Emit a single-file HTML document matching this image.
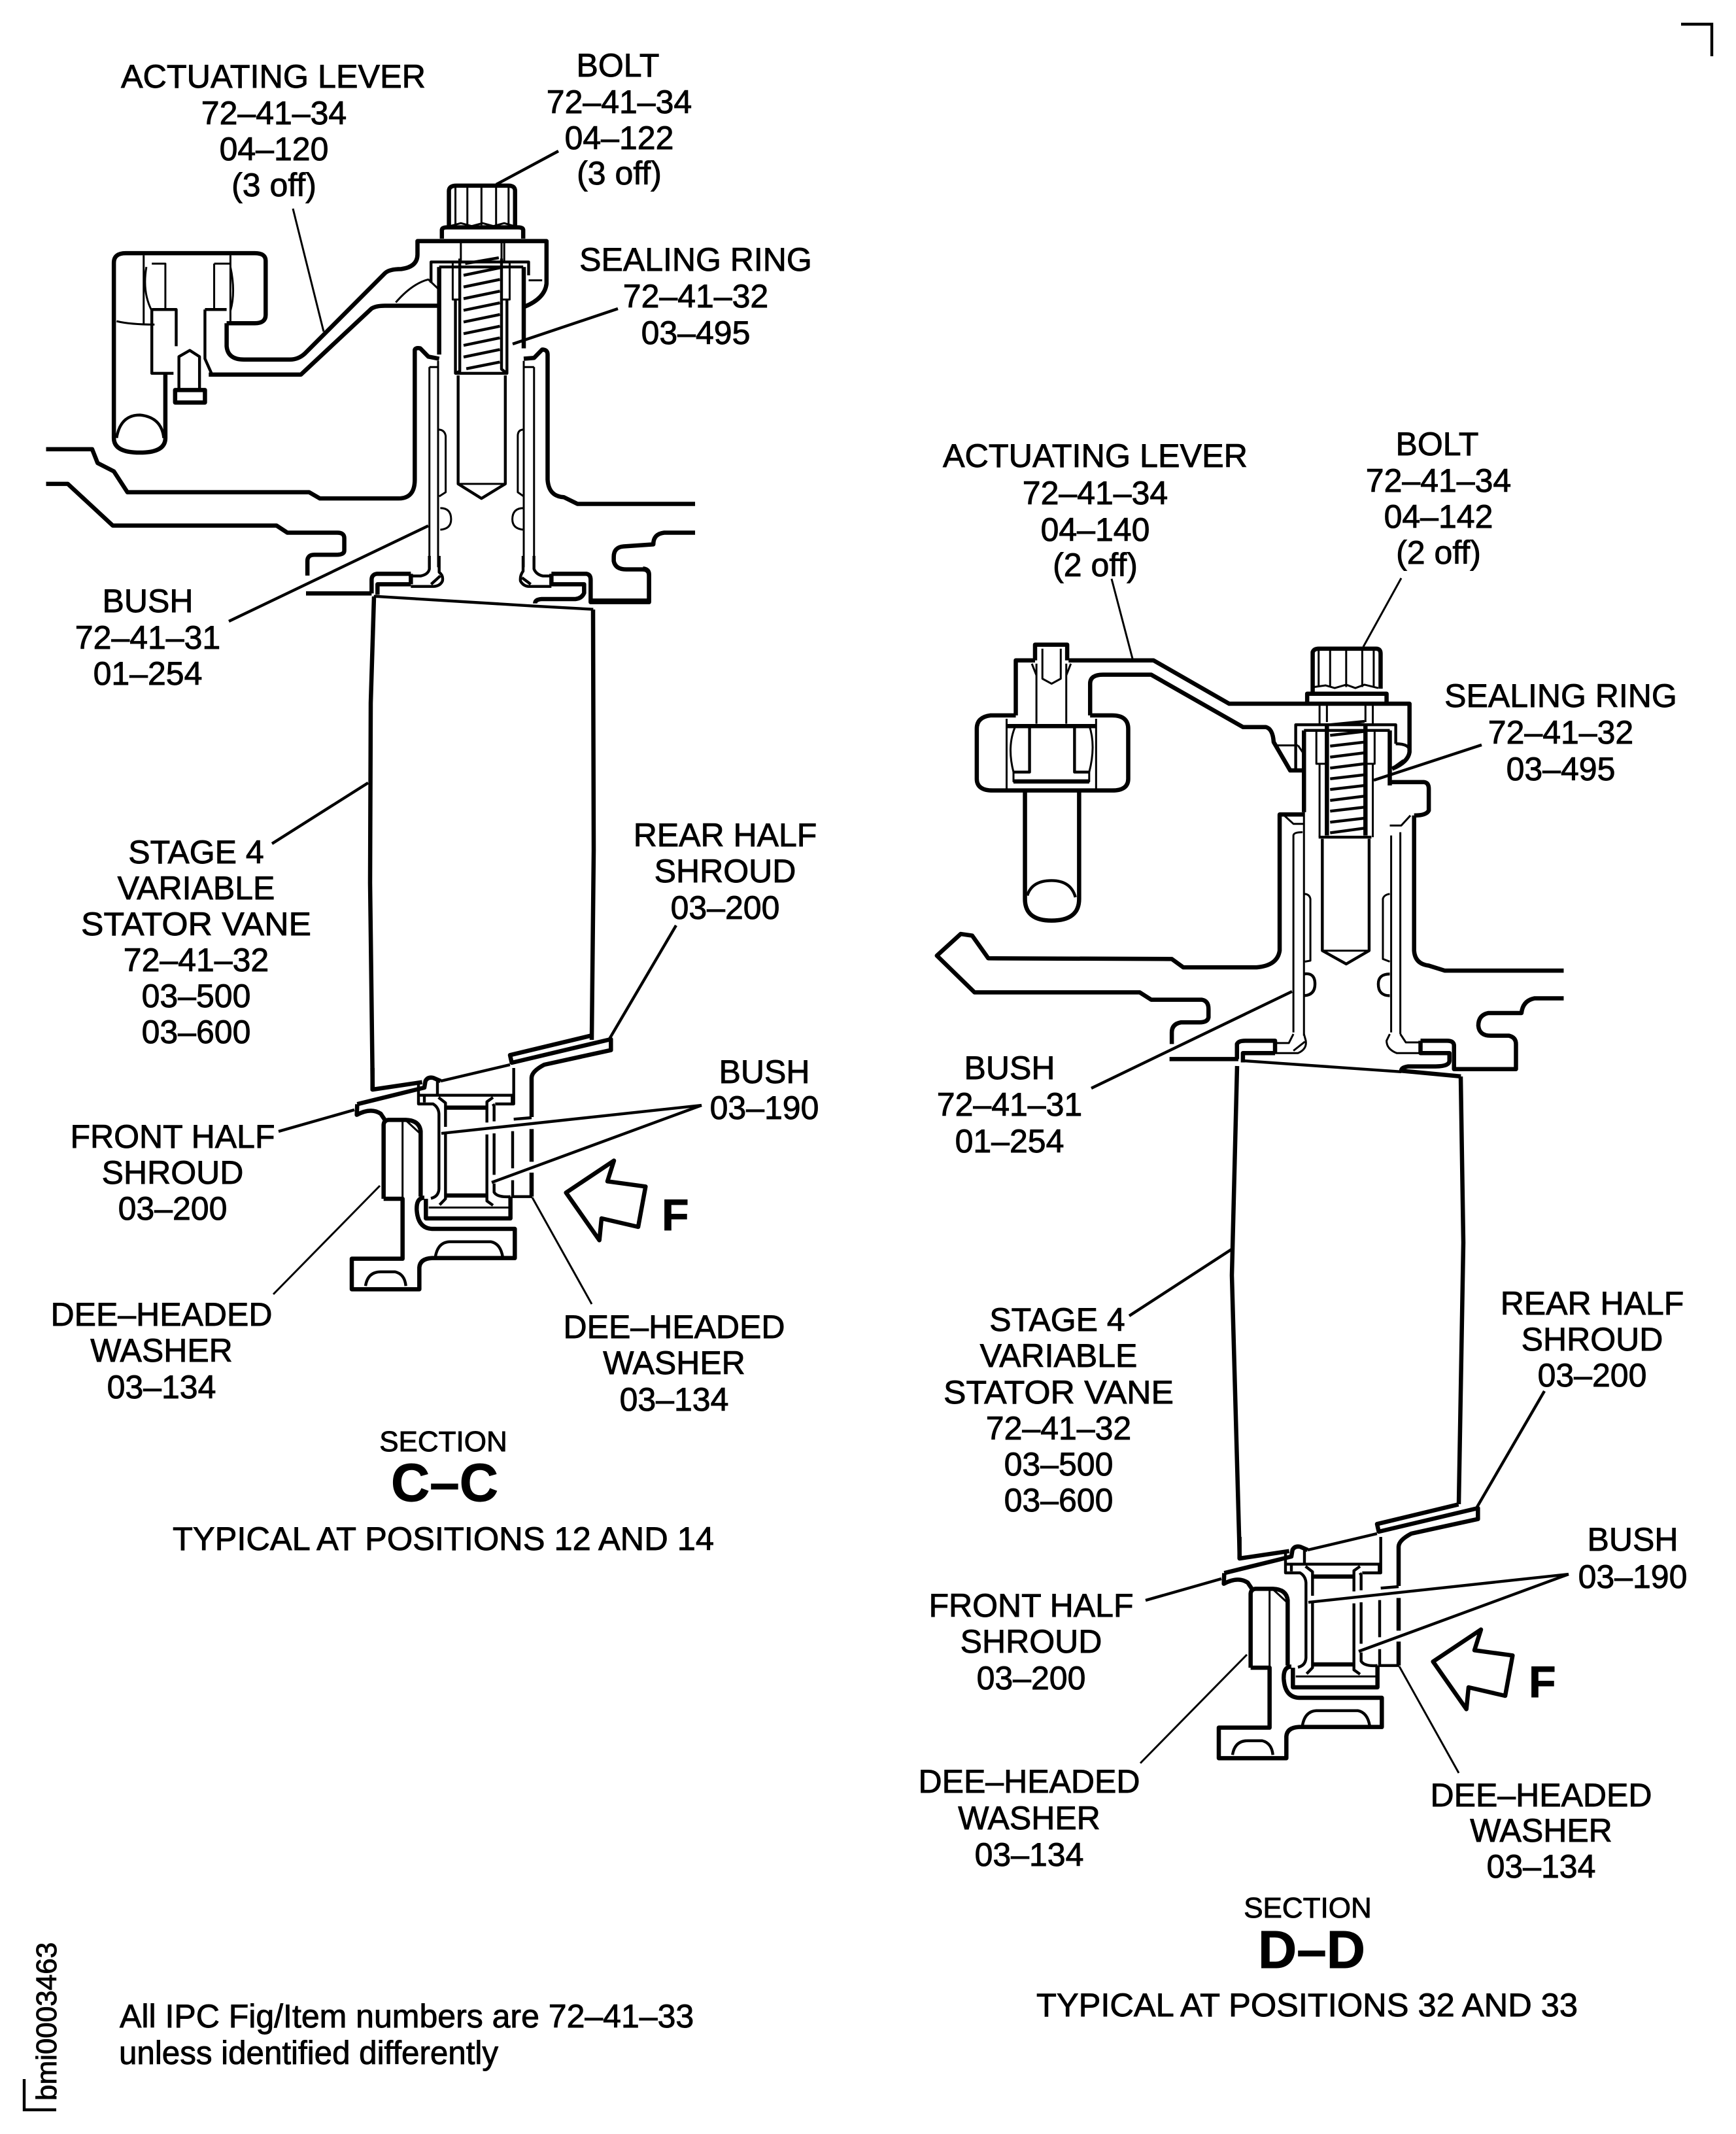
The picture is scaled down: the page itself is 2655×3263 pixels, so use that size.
<!DOCTYPE html>
<html><head><meta charset="utf-8"><style>
html,body{margin:0;padding:0;background:#fff}
svg{display:block}
path,polygon,line{fill:none;stroke:#000;vector-effect:non-scaling-stroke;stroke-linejoin:round}
.t{stroke-width:6.5}.m{stroke-width:4.4}.n{stroke-width:3}
text{font-family:"Liberation Sans",sans-serif;font-size:50px;fill:#000;text-anchor:middle;stroke:#000;stroke-width:.9px}
.b{font-weight:bold;font-size:82px}.f{font-weight:bold;font-size:68px;text-anchor:start}.s{font-size:44px}.l{text-anchor:start}
</style></head><body>
<svg width="2655" height="3263" viewBox="0 0 2655 3263" xmlns="http://www.w3.org/2000/svg">
<rect width="2655" height="3263" fill="#fff"/>
<defs>
<g id="B">
<g transform="translate(1880,2350) scale(.33333)">
<path class="t" d="M98,600 L98,260 Q100,240 120,238 L200,238 Q262,240 268,290 L268,590"/>
<path class="n" d="M185,240 L185,600 M200,240 L265,300"/>
<path class="t" d="M98,600 L185,600 L185,875 L-48,875 L-48,1015 L262,1015 L262,915 Q265,875 320,872 L700,872 L700,738 L320,738 Q255,735 250,650 Q248,595 285,595"/>
<path class="t" d="M292,600 L292,690 L680,690 L680,590"/>
<path class="n" d="M305,640 L672,640"/>
<path class="t" d="M385,182 L570,182 M385,585 L570,585"/>
<path class="m" d="M258,60 L258,165 L325,165 Q350,180 352,210 L352,555 Q350,590 315,598"/>
<path class="m" d="M258,125 L698,125"/>
<path class="m" d="M285,130 L285,158 M345,60 L345,125 M350,135 L382,160 L382,270 M382,300 L382,600 L355,628"/>
<path class="m" d="M600,135 L572,155 L572,250 M572,305 L572,610 L600,630 M600,165 L605,175 L605,245 M605,300 L605,490 M605,530 L605,570 Q620,595 680,590"/>
<path class="m" d="M695,0 L695,165 L610,165 M688,130 L688,160"/>
<path class="m" d="M690,290 L690,460 M690,515 L690,590 L780,590"/>
<path class="t" d="M777,280 L777,430 M777,480 L777,590 M777,225 L777,45 Q778,15 835,-15 L1141,-82 L1141,-132 L686,-24 L678,-59 L1052,-149"/>
<path class="m" d="M695,235 L777,228"/>
<path class="t" d="M47,0 L47,99 L275,65 M-23,166 L285,90 L290,60 Q300,40 325,45 L360,60 M-23,166 L-25,215 Q40,180 85,210 L105,240"/>
<path class="m" d="M360,60 L678,-15"/>
<path class="m" d="M335,870 Q345,800 400,797 L590,797 Q635,805 645,870 M15,1000 Q25,935 85,935 L150,935 Q195,945 200,1000"/>
<polygon class="t" points="935,572 1155,425 1125,520 1300,544 1266,729 1098,690 1088,790"/>
</g>
<path class="m" d="M2399,2407 L2001,2450 M2399,2407 L2078,2525 M1752,2447 L1868,2414"/>
<path class="n" d="M1744,2696 L1907,2530 M2231,2711 L2140,2548"/>
</g>
</defs>
<use href="#B"/>
<use href="#B" transform="translate(-1326,-717)"/>

<!-- vanes -->
<path class="t" d="M572,912 L567,1075 L566,1350 L570,1668 M907,932 L908,1300 L905,1590"/>
<path class="t" d="M1892,1630 L1884,1950 L1896,2383 M2234,1646 L2238,1900 L2231,2300"/>

<!-- section C top -->
<g transform="scale(.8292,.6378)">
<path class="t" d="M418,775 L470,775 Q490,775 490,755 L490,625 Q490,607 470,607 L232,607 Q210,607 210,630 L210,1050 Q210,1085 258,1085 Q305,1085 305,1050 L305,898"/>
<path class="t" d="M418,775 L418,830 Q420,862 450,862 L535,862 Q550,862 562,848 L710,655 Q718,645 740,645 Q770,640 770,610 L770,578 L1008,578 L1008,680 Q1005,715 968,735"/>
<path class="t" d="M385,898 L555,898 L685,740 Q693,733 710,733 L808,733"/>
<path class="n" d="M215,770 Q240,778 285,778 M265,612 L265,778 M425,612 L425,770 M280,632 L305,632 L305,742 M395,632 L425,632 M395,632 L395,742 M270,640 Q262,700 280,745 M425,640 Q435,700 425,745"/>
<path class="m" d="M215,1050 Q222,995 258,995 Q298,1000 302,1050"/>
<path class="m" d="M280,742 L325,742 L325,830 M280,742 L280,895 L320,895 M378,742 L418,742 M378,742 L378,860 L390,895"/>
<path class="t" d="M323,965 L378,965 L378,935 L323,935 Z"/>
<path class="m" d="M330,935 L330,855 L350,840 L368,855 L368,935"/>
<path class="n" d="M730,725 Q760,680 790,670 L808,692 M975,672 L1000,672"/>
<path class="m" d="M795,678 L795,628 L975,628 L975,660 M810,640 L965,640"/>
<path class="t" d="M810,640 L810,850 M966,640 L966,835"/>
<path class="t" d="M828,545 L828,458 Q828,445 842,445 L938,445 Q950,445 950,458 L950,545"/>
<path class="n" d="M840,450 L840,540 M862,450 L862,540 M888,450 L888,540 M915,450 L915,540 M938,450 L938,540 M830,542 L850,535 L870,542 L890,535 L910,542 L930,535 L948,542"/>
<path class="t" d="M815,572 L815,552 Q815,545 825,545 L955,545 Q965,545 965,552 L965,572"/>
<path class="n" d="M850,578 L850,625 M930,578 L930,625 M925,578 L925,625"/>
<path class="n" d="M835,630 L835,718 L850,718 M940,630 L940,718 L925,718"/>
<path class="m" d="M848,620 L848,890 L840,895 L935,895 L925,885 L925,620 M840,718 L840,895 M935,718 L935,895"/>
<path class="m" d="M855,660 L922,642 M855,688 L922,670 M855,716 L922,698 M855,744 L922,726 M855,772 L922,754 M855,800 L922,782 M855,828 L922,810 M855,856 L922,838 M860,884 L922,868 M858,632 L920,618"/>
<path class="m" d="M845,900 L845,1160 L888,1195 L932,1160 L932,900"/>
<path class="n" d="M845,1160 L932,1160"/>
<path class="t" d="M765,1150 L765,840 Q765,833 775,835 L790,855 L810,860 M765,1150 Q765,1195 735,1195 L590,1195 L570,1180 L235,1180 L210,1130 L180,1110 L170,1077 L85,1077"/>
<path class="t" d="M85,1160 L125,1160 L208,1260 L510,1260 L530,1277 L622,1277 Q635,1277 635,1290 L635,1320 Q635,1330 620,1330 L580,1330 Q567,1330 567,1345 L567,1380"/>
<path class="t" d="M966,860 L985,858 L1000,838 Q1010,838 1010,850 L1010,1150 Q1012,1190 1040,1192 L1065,1208 L1282,1208"/>
<path class="t" d="M1282,1277 L1225,1277 Q1205,1280 1205,1305 L1150,1310 Q1132,1312 1132,1335 L1132,1345 Q1135,1365 1155,1365 L1185,1365 Q1197,1365 1197,1380 L1197,1440 L1088,1440"/>
<path class="n" d="M792,880 L792,1360 M808,865 L808,1360 M966,865 L966,1360 M985,880 L985,1360 M792,880 L808,880 M966,880 L985,880"/>
<path class="n" d="M808,1030 Q820,1030 822,1045 L822,1180 L810,1190 M966,1030 Q955,1030 955,1045 L955,1180 L966,1190"/>
<path class="n" d="M812,1218 Q832,1218 832,1245 Q832,1268 812,1270 M966,1218 Q945,1218 945,1245 Q945,1268 966,1270"/>
</g>
<g transform="translate(500,850) scale(.33333)">
<path class="t" d="M-96,172 L205,172 M205,172 L205,110 Q205,85 230,82 L385,82 M232,178 L232,130 L385,130 M385,82 L385,130"/>
<path class="m" d="M215,185 L950,230 L1222,245"/>
<path class="m" d="M470,0 L470,60 Q465,85 430,92 L385,92 M515,0 L515,75 Q535,90 530,115 Q520,138 490,140 L385,140 M478,130 L520,92"/>
<path class="t" d="M1030,82 L1190,82 Q1210,85 1210,110 L1210,212 L1478,212 L1478,85 Q1478,60 1450,58"/>
<path class="t" d="M1030,82 L1030,130 L1180,130 L1180,170 Q1170,195 1140,198 L985,198 Q955,200 955,218"/>
<path class="m" d="M900,0 L900,70 Q885,90 888,115 Q900,138 925,140 L1030,140 M950,0 L950,60 Q960,85 990,92 L1030,92 M895,100 L935,130"/>
</g>
<!-- C leaders -->
<path class="n" d="M448,319 L495,507"/>
<path class="m" d="M854,231 L759,282"/>
<path class="m" d="M945,472 L784,526 M350,950 L655,804 M416,1290 L563,1197"/>
<path class="m" d="M1034,1415 L930,1592"/>

<!-- section D top -->
<g transform="translate(1350,900) scale(.7018,.5102)">
<path class="t" d="M290,380 L235,380 Q205,385 205,420 L205,570 Q205,605 240,605 L500,605 Q535,605 535,570 L535,420 Q535,380 500,380 L452,380"/>
<path class="t" d="M290,380 L290,215 L332,215 M405,215 L590,215 L755,345 L1148,345 L1148,490 Q1145,520 1110,540"/>
<path class="t" d="M452,380 L452,285 Q452,258 480,258 L585,258 L785,415 L835,415 Q850,420 852,460 L888,545 L918,545"/>
<path class="t" d="M332,215 L332,168 L402,168 L402,215"/>
<path class="n" d="M348,180 L348,270 L368,285 L388,270 L388,180 M335,225 L335,405 M400,225 L400,405 M325,225 L335,260 M410,225 L400,260"/>
<path class="t" d="M270,412 L465,412"/>
<path class="m" d="M320,415 L320,550 L285,550 M418,415 L418,550 L450,550"/>
<path class="n" d="M270,390 L270,600 M465,390 L465,600 M285,550 L285,578 L450,578 L450,550 M290,410 Q270,470 285,550 M450,410 Q465,470 450,550"/>
<path class="t" d="M285,578 L450,578"/>
<path class="t" d="M310,605 L310,930 Q310,995 368,995 Q428,995 428,930 L428,605"/>
<path class="m" d="M315,920 Q325,875 368,875 Q410,875 420,925"/>
<path class="t" d="M937,315 L937,190 Q940,180 950,180 L1075,180 Q1085,180 1085,195 L1085,300"/>
<path class="n" d="M950,185 L950,295 M975,185 L975,295 M1010,185 L1010,295 M1045,185 L1045,295 M1070,185 L1070,295 M940,295 L965,290 L985,298 L1010,288 L1030,298 L1050,288 L1080,298"/>
<path class="t" d="M925,345 L925,315 L1098,315 L1098,345"/>
<path class="n" d="M952,350 L952,410 M968,350 L968,400 M1052,350 L1052,400 M1068,350 L1068,410"/>
<path class="t" d="M968,405 L968,740 M1052,405 L1052,740"/>
<path class="m" d="M975,408 L1050,398 M975,440 L1050,428 M975,472 L1050,460 M975,505 L1050,492 M975,538 L1050,525 M975,570 L1050,558 M975,602 L1050,590 M975,635 L1050,622 M975,667 L1050,655 M975,700 L1050,688 M975,732 L1050,718"/>
<path class="m" d="M900,540 L900,408 L1118,408 L1118,465 M918,425 L1105,425"/>
<path class="t" d="M918,425 L918,670 M1105,425 L1105,590"/>
<path class="n" d="M945,425 L945,525 L970,525 M1072,425 L1072,525 L1052,525 M952,525 L952,745 M1068,525 L1068,745"/>
<path class="m" d="M950,745 L1065,745"/>
<path class="m" d="M958,750 L958,1085 L1010,1125 L1060,1085 L1060,750"/>
<path class="n" d="M958,1085 L1060,1085"/>
<path class="t" d="M1105,580 L1180,580 Q1190,582 1190,600 L1190,665 Q1185,680 1158,680"/>
<path class="n" d="M860,470 L905,470 M905,470 L915,490"/>
<path class="m" d="M1118,465 Q1150,465 1148,490 M1110,540 L1135,515"/>
<path class="t" d="M918,677 L865,677 L865,1085 Q860,1130 815,1135 L655,1135 L630,1110 L230,1108 L195,1040 L170,1035 L118,1100 L200,1210 L560,1210 L585,1232 L695,1232 Q710,1235 710,1260 L710,1285 Q708,1300 690,1300 L650,1300 Q630,1305 630,1330 L630,1365"/>
<path class="t" d="M625,1410 L775,1410"/>
<path class="t" d="M1158,680 L1158,1085 Q1160,1125 1190,1130 L1225,1145 L1484,1145"/>
<path class="t" d="M1484,1228 L1420,1228 Q1395,1235 1392,1272 L1320,1272 Q1298,1278 1298,1310 Q1300,1340 1325,1340 L1365,1340 Q1380,1345 1380,1365 L1380,1440 L1245,1440 L1245,1370 Q1245,1355 1230,1355 L1172,1355"/>
<path class="n" d="M895,740 L895,1330 M918,670 L918,1340 M895,740 Q895,730 915,730 M875,680 L895,705 L918,705"/>
<path class="n" d="M1105,710 L1130,710 L1150,680 M1108,740 L1108,1330 M1128,730 L1128,1335"/>
<path class="n" d="M918,915 Q930,915 932,930 L932,1115 L920,1118 M1105,915 Q1092,918 1090,930 L1090,1110 L1105,1118"/>
<path class="m" d="M918,1155 Q942,1150 942,1185 Q942,1218 918,1220 M1105,1155 Q1080,1155 1080,1185 Q1080,1220 1105,1220"/>
<path class="t" d="M772,1410 L772,1365 Q775,1355 790,1355 L855,1355 L855,1392 M785,1420 L785,1392 L855,1392"/>
<path class="n" d="M855,1362 L885,1362 L895,1335 M855,1392 L905,1392 Q925,1380 922,1355 L918,1335 M895,1385 L920,1358"/>
<path class="t" d="M1172,1355 L1172,1392 L1235,1392 L1235,1415 Q1235,1432 1205,1432 L1145,1432 Q1130,1435 1130,1445"/>
<path class="n" d="M1128,1335 L1140,1360 L1172,1360 M1172,1392 L1120,1392 Q1098,1380 1098,1355 L1105,1335"/>
<path class="m" d="M785,1415 L1130,1448"/>
<path class="t" d="M1130,1445 L1260,1462"/>
</g>
<!-- D leaders -->
<path class="n" d="M1700,885 L1732,1007 M2143,884 L2085,989"/>
<path class="m" d="M2266,1139 L2101,1193 M1669,1664 L1976,1516 M1727,2012 L1887,1908"/>
<path class="m" d="M2362,2127 L2258,2306"/>

<!-- corner marks -->
<path class="m" style="stroke-linejoin:miter" d="M2571,37 L2618,37 L2618,86"/>
<path class="m" style="stroke-linejoin:miter" d="M37,3179 L37,3226 L86,3226"/>

<!-- labels C -->
<text x="418" y="134" textLength="466" lengthAdjust="spacingAndGlyphs">ACTUATING LEVER</text><text x="419" y="190">72–41–34</text><text x="419" y="245">04–120</text><text x="419" y="300">(3 off)</text>
<text x="945" y="117">BOLT</text><text x="947" y="173">72–41–34</text><text x="947" y="228">04–122</text><text x="947" y="282">(3 off)</text>
<text x="1064" y="414">SEALING RING</text><text x="1064" y="470">72–41–32</text><text x="1064" y="526">03–495</text>
<text x="226" y="936">BUSH</text><text x="226" y="992">72–41–31</text><text x="226" y="1047">01–254</text>
<text x="300" y="1320">STAGE 4</text><text x="300" y="1375">VARIABLE</text><text x="300" y="1430" textLength="352" lengthAdjust="spacingAndGlyphs">STATOR VANE</text><text x="300" y="1485">72–41–32</text><text x="300" y="1540">03–500</text><text x="300" y="1595">03–600</text>
<text x="1109" y="1294">REAR HALF</text><text x="1109" y="1349">SHROUD</text><text x="1109" y="1405">03–200</text>
<text x="1169" y="1656">BUSH</text><text x="1169" y="1711">03–190</text>
<text x="264" y="1755">FRONT HALF</text><text x="264" y="1810">SHROUD</text><text x="264" y="1865">03–200</text>
<text x="247" y="2027">DEE–HEADED</text><text x="247" y="2082">WASHER</text><text x="247" y="2138">03–134</text>
<text x="1031" y="2046">DEE–HEADED</text><text x="1031" y="2101">WASHER</text><text x="1031" y="2157">03–134</text>
<text class="f" x="1012" y="1881">F</text>
<text class="s" x="678" y="2219">SECTION</text><text class="b" x="680" y="2295">C–C</text>
<text x="678" y="2370" textLength="828" lengthAdjust="spacingAndGlyphs">TYPICAL AT POSITIONS 12 AND 14</text>

<!-- labels D -->
<text x="1675" y="714" textLength="466" lengthAdjust="spacingAndGlyphs">ACTUATING LEVER</text><text x="1675" y="771">72–41–34</text><text x="1675" y="827">04–140</text><text x="1675" y="881">(2 off)</text>
<text x="2198" y="696">BOLT</text><text x="2200" y="752">72–41–34</text><text x="2200" y="807">04–142</text><text x="2200" y="862">(2 off)</text>
<text x="2387" y="1081">SEALING RING</text><text x="2387" y="1137">72–41–32</text><text x="2387" y="1193">03–495</text>
<text x="1544" y="1650">BUSH</text><text x="1544" y="1706">72–41–31</text><text x="1544" y="1762">01–254</text>
<text x="1617" y="2035">STAGE 4</text><text x="1619" y="2090">VARIABLE</text><text x="1619" y="2146" textLength="352" lengthAdjust="spacingAndGlyphs">STATOR VANE</text><text x="1619" y="2201">72–41–32</text><text x="1619" y="2256">03–500</text><text x="1619" y="2311">03–600</text>
<text x="2435" y="2010">REAR HALF</text><text x="2435" y="2065">SHROUD</text><text x="2435" y="2120">03–200</text>
<text x="2497" y="2371">BUSH</text><text x="2497" y="2428">03–190</text>
<text x="1577" y="2472">FRONT HALF</text><text x="1577" y="2527">SHROUD</text><text x="1577" y="2583">03–200</text>
<text x="1574" y="2741">DEE–HEADED</text><text x="1574" y="2797">WASHER</text><text x="1574" y="2853">03–134</text>
<text x="2357" y="2762">DEE–HEADED</text><text x="2357" y="2816">WASHER</text><text x="2357" y="2871">03–134</text>
<text class="f" x="2338" y="2595">F</text>
<text class="s" x="2000" y="2932">SECTION</text><text class="b" x="2006" y="3009">D–D</text>
<text x="1999" y="3083" textLength="828" lengthAdjust="spacingAndGlyphs">TYPICAL AT POSITIONS 32 AND 33</text>

<!-- notes -->
<text class="l" x="183" y="3100">All IPC Fig/Item numbers are 72–41–33</text>
<text class="l" x="182" y="3156" textLength="580" lengthAdjust="spacingAndGlyphs">unless identified differently</text>
<text class="s l" transform="translate(86,3212) rotate(-90)">bmi0003463</text>
</svg>
</body></html>
